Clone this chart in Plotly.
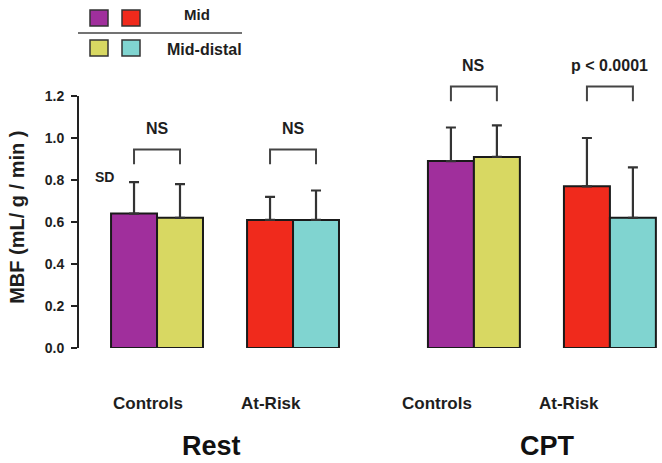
import plotly.graph_objects as go

# ---------------- data ----------------
conditions = ["Rest", "CPT"]
groups = ["Controls", "At-Risk", "Controls", "At-Risk"]
group_pos = [0, 1, 2.33, 3.33]
mid_values = [0.64, 0.61, 0.89, 0.77]
mid_sd = [0.15, 0.11, 0.16, 0.23]
distal_values = [0.62, 0.61, 0.91, 0.62]
distal_sd = [0.16, 0.14, 0.15, 0.24]
mid_colors = ["#a02f9c", "#f02a1c", "#a02f9c", "#f02a1c"]
distal_colors = ["#d8d862", "#80d4d0", "#d8d862", "#80d4d0"]
sig_labels = ["NS", "NS", "NS", "p < 0.0001"]
bracket_top = [0.945, 0.945, 1.245, 1.245]
label_pos = [-0.07, 0.84, 2.06, 3.03]
cond_pos = [0.40, 2.87]
y_ticks = [0.0, 0.2, 0.4, 0.6, 0.8, 1.0, 1.2]
y_ticktext = ["0.0", "0.2", "0.4", "0.6", "0.8", "1.0", "1.2"]

W = 0.338
FONT = "Liberation Sans, Arial, sans-serif"
TXT = "#1e1e1e"

fig = go.Figure()
fig.add_trace(go.Bar(
    name="Mid", x=group_pos, y=mid_values, width=W, offset=-W,
    marker=dict(color=mid_colors, line=dict(color="#1a1a1a", width=2)),
    error_y=dict(type="data", array=mid_sd, arrayminus=[0]*4, symmetric=False,
                 color="#333333", thickness=2.2, width=5),
))
fig.add_trace(go.Bar(
    name="Mid-distal", x=group_pos, y=distal_values, width=W, offset=0,
    marker=dict(color=distal_colors, line=dict(color="#1a1a1a", width=2)),
    error_y=dict(type="data", array=distal_sd, arrayminus=[0]*4, symmetric=False,
                 color="#333333", thickness=2.2, width=5),
))

shapes = []
annotations = []
# y axis line
shapes.append(dict(type="line", xref="paper", yref="y", x0=0, x1=0, y0=0, y1=1.2,
                   line=dict(color="#222", width=2)))
# significance brackets
for i, gx in enumerate(group_pos):
    xl = gx - W / 2
    xr = gx + W / 2
    top = bracket_top[i]
    bot = top - 0.07
    shapes.append(dict(type="path", xref="x", yref="y",
                       path=f"M {xl},{bot} L {xl},{top} L {xr},{top} L {xr},{bot}",
                       line=dict(color="#444", width=2)))
    annotations.append(dict(x=gx, y=top + 0.10, xref="x", yref="y",
                            text="<b>" + sig_labels[i] + "</b>",
                            showarrow=False, font=dict(size=16, color=TXT, family=FONT),
                            xanchor="center", yanchor="middle"))
# group labels
for i, lp in enumerate(label_pos):
    annotations.append(dict(x=lp, y=0, xref="x", yref="y", yshift=-55,
                            text="<b>" + groups[i] + "</b>",
                            showarrow=False, font=dict(size=17, color=TXT, family=FONT),
                            xanchor="center", yanchor="middle"))
# condition labels
for i, cp in enumerate(conditions):
    annotations.append(dict(x=cond_pos[i], y=0, xref="x", yref="y", yshift=-98,
                            text="<b>" + cp + "</b>",
                            showarrow=False, font=dict(size=27, color="#111", family=FONT),
                            xanchor="center", yanchor="middle"))
# SD label
annotations.append(dict(x=group_pos[0] - W, y=0.815, xref="x", yref="y", xshift=-7,
                        text="<b>SD</b>", showarrow=False,
                        font=dict(size=14, color=TXT, family=FONT),
                        xanchor="center", yanchor="middle"))
# y title
annotations.append(dict(x=0, y=0.62, xref="paper", yref="y", xshift=-61,
                        text="<b>MBF (mL/ g / min )</b>", textangle=-90, showarrow=False,
                        font=dict(size=20, color=TXT, family=FONT),
                        xanchor="center", yanchor="middle"))

# legend (drawn manually)
leg_sq = [("#a02f9c", 99, 18), ("#f02a1c", 131, 18), ("#d8d862", 99, 48), ("#80d4d0", 131, 48)]
for col, cx, cy in leg_sq:
    shapes.append(dict(type="rect", xref="paper", yref="paper",
                       x0=(cx - 9 - 78) / 584, x1=(cx + 9 - 78) / 584,
                       y0=(348 - (cy + 8)) / 336, y1=(348 - (cy - 8)) / 336,
                       fillcolor=col, line=dict(color="#333", width=1.5)))
shapes.append(dict(type="line", xref="paper", yref="paper",
                   x0=(78 - 78) / 584, x1=(242 - 78) / 584,
                   y0=(348 - 33) / 336, y1=(348 - 33) / 336,
                   line=dict(color="#444", width=1.5)))
annotations.append(dict(x=(197 - 78) / 584, y=(348 - 15) / 336, xref="paper", yref="paper",
                        text="<b>Mid</b>", showarrow=False,
                        font=dict(size=15, color=TXT, family=FONT),
                        xanchor="center", yanchor="middle"))
annotations.append(dict(x=(204 - 78) / 584, y=(348 - 49) / 336, xref="paper", yref="paper",
                        text="<b>Mid-distal</b>", showarrow=False,
                        font=dict(size=16, color=TXT, family=FONT),
                        xanchor="center", yanchor="middle"))

fig.update_layout(
    width=662, height=463,
    margin=dict(l=78, r=0, t=12, b=115),
    paper_bgcolor="white", plot_bgcolor="white",
    showlegend=False,
    barmode="overlay",
    shapes=shapes, annotations=annotations,
    xaxis=dict(range=[-0.581, 3.713], showticklabels=False, showgrid=False,
               zeroline=False, showline=False, ticks=""),
    yaxis=dict(range=[0, 1.6], tickvals=y_ticks, ticktext=["<b>" + t + "</b>" for t in y_ticktext],
               ticks="outside", ticklen=6, tickwidth=2, tickcolor="#222",
               ticklabelstandoff=4,
               showgrid=False, zeroline=False, showline=False,
               tickfont=dict(size=14, color=TXT, family=FONT)),
)

fig.write_html("out.html")
